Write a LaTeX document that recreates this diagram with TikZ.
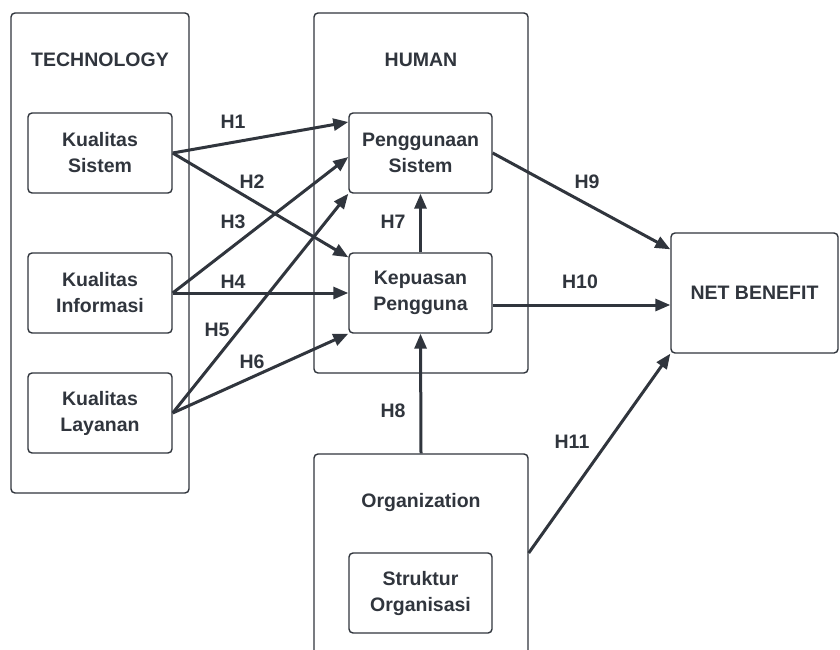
\documentclass[tikz,border=0pt]{standalone}
\usepackage{fontspec}
\setmainfont{Liberation Sans}
\usetikzlibrary{arrows.meta,calc}
\definecolor{ink}{HTML}{30353D}
\tikzset{
  x=1pt,y=-1pt,
  grp/.style={draw=ink,line width=1.4pt,rounded corners=4pt,inner sep=0pt},
  var/.style={draw=ink,line width=1.4pt,rounded corners=4pt,minimum width=144pt,minimum height=80pt,inner sep=0pt,align=center,text=ink,font=\fontsize{19.5}{26}\selectfont\bfseries},
  ttl/.style={text=ink,font=\fontsize{19.5}{23}\selectfont\bfseries,inner sep=0pt},
  hyp/.style={text=ink,font=\fontsize{19.5}{23}\selectfont\bfseries,inner sep=0pt},
  arr/.style={draw=ink,line width=3pt,-{Triangle[length=15pt,width=12pt]},shorten >=0pt}
}
\begin{document}
\begin{tikzpicture}
\clip (0,0) rectangle (840,650);
\fill[white] (0,0) rectangle (840,650);
% group boxes
\node[grp,minimum width=178pt,minimum height=480pt] (tech) at (100,253) {};
\node[grp,minimum width=214pt,minimum height=360pt] (human) at (421,193) {};
\node[grp,minimum width=214pt,minimum height=260pt] (org) at (421,584) {};
\node[grp,minimum width=167pt,minimum height=120pt] (nb) at (754.5,293) {};
% titles
\node[ttl] (ttech) at (100,60) {TECHNOLOGY};
\node[ttl] (thuman) at (421,60) {HUMAN};
\node[ttl] (torg) at (421,502) {Organization};
\node[ttl] (tnb) at (754.5,293) {NET BENEFIT};
% variables
\node[var] (ks) at (100,153) {Kualitas\\Sistem};
\node[var] (ki) at (100,293) {Kualitas\\Informasi};
\node[var] (kl) at (100,413) {Kualitas\\Layanan};
\node[var,minimum width=143pt] (ps) at (420.5,153) {Penggunaan\\Sistem};
\node[var,minimum width=143pt] (kp) at (420.5,293) {Kepuasan\\Pengguna};
\node[var,minimum width=143pt] (so) at (420.5,593) {Struktur\\Organisasi};
% connectors
\draw[arr] (ks.east) -- ([yshift=31pt]ps.west);
\draw[arr] (ks.east) -- ([yshift=-5pt]kp.north west);
\draw[arr] (ki.east) -- ([yshift=-4pt]ps.west);
\draw[arr] (ki.east) -- (kp.west);
\draw[arr] (kl.east) -- (ps.south west);
\draw[arr] (kl.east) -- (kp.south west);
\draw[arr] (kp.north) -- (ps.south);
\draw[arr] (org.north) -- (kp.south);
\draw[arr] (ps.east) -- ([yshift=-17pt]nb.north west);
\coordinate (h10s) at ([yshift=-12pt]kp.east);
\draw[arr] (h10s) -- (h10s -| nb.west);
\draw[arr] ([yshift=31pt]org.east) -- (nb.south west);
% labels
\node[hyp] (lh1) at (233,122) {H1};
\node[hyp] (lh2) at (252,182) {H2};
\node[hyp] (lh3) at (233,222) {H3};
\node[hyp] (lh4) at (233,282) {H4};
\node[hyp] (lh5) at (217,330) {H5};
\node[hyp] (lh6) at (252,362) {H6};
\node[hyp] (lh7) at (393,222) {H7};
\node[hyp] (lh8) at (393,411) {H8};
\node[hyp] (lh9) at (587,182) {H9};
\node[hyp] (lh10) at (580,282) {H10};
\node[hyp] (lh11) at (572,442) {H11};
\end{tikzpicture}
\end{document}
